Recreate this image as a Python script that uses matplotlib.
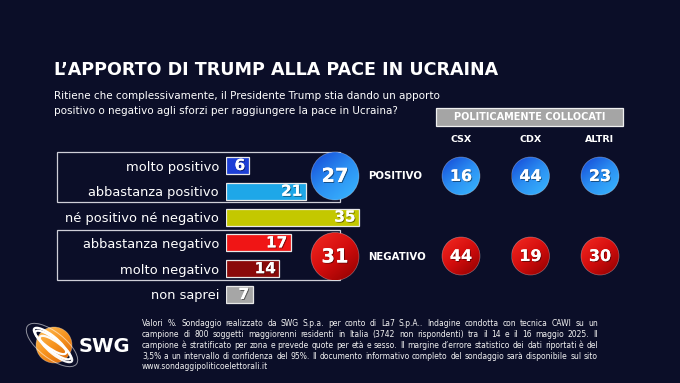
import numpy as np
import matplotlib
matplotlib.use('Agg')
from matplotlib import pyplot as plt
from matplotlib import patheffects as pe
from matplotlib.patches import Circle, Rectangle, Ellipse
from matplotlib.colors import LinearSegmentedColormap

categories = ['molto positivo', 'abbastanza positivo', 'né positivo né negativo',
              'abbastanza negativo', 'molto negativo', 'non saprei']
values = [6, 21, 35, 17, 14, 7]
bar_colors = ['#1d3fd6', '#1ea7e8', '#c4c800', '#f01515', '#8a0a0a', '#a6a6a6']

total_labels = ['POSITIVO', 'NEGATIVO']
totals = [27, 31]

groups = ['CSX', 'CDX', 'ALTRI']
positivo_by_group = [16, 44, 23]
negativo_by_group = [44, 19, 30]

title = 'L’APPORTO DI TRUMP ALLA PACE IN UCRAINA'
question = ['Ritiene che complessivamente, il Presidente Trump stia dando un apporto',
            'positivo o negativo agli sforzi per raggiungere la pace in Ucraina?']
note = ['Valori %. Sondaggio realizzato da SWG S.p.a. per conto di La7 S.p.A.. Indagine condotta con tecnica CAWI su un',
        'campione di 800 soggetti maggiorenni residenti in Italia (3742 non rispondenti) tra il 14 e il 16 maggio 2025. Il',
        'campione è stratificato per zona e prevede quote per età e sesso. Il margine d’errore statistico dei dati riportati è del',
        '3,5% a un intervallo di confidenza del 95%. Il documento informativo completo del sondaggio sarà disponibile sul sito',
        'www.sondaggipoliticoelettorali.it']

BG = '#0b0e28'
W, H = 680, 383
shadow = [pe.withSimplePatchShadow(offset=(0.7, -0.7), shadow_rgbFace='black', alpha=0.45),
          pe.Normal()]

fig = plt.figure(figsize=(W / 100, H / 100), dpi=100)
fig.patch.set_facecolor(BG)

# full-figure canvas in pixel units (y down)
cv = fig.add_axes([0, 0, 1, 1])
cv.set_xlim(0, W)
cv.set_ylim(H, 0)
cv.axis('off')
renderer = fig.canvas.get_renderer()


def fit_width(txt, width, rounds=3):
    for _ in range(rounds):
        w = txt.get_window_extent(renderer).width
        txt.set_fontsize(txt.get_fontsize() * width / w)
    return txt.get_fontsize()


blue_cm = LinearSegmentedColormap.from_list('b', ['#1446d6', '#2b8ff2', '#3ab8ff'])
red_cm = LinearSegmentedColormap.from_list('r', ['#f42a22', '#d30d0d', '#8e0000'])
orange_cm = LinearSegmentedColormap.from_list('o', ['#ffc15a', '#f7931e', '#d8640a'])


def ball(cx, cy, r, cmap, text=None, size=11):
    yy, xx = np.mgrid[0:1:64j, 0:1:64j]
    grad = (xx * 0.45 + yy * 0.55)
    im = cv.imshow(grad, cmap=cmap, extent=(cx - r, cx + r, cy + r, cy - r),
                   origin='upper', zorder=3, interpolation='bilinear')
    clip = Circle((cx, cy), r, transform=cv.transData)
    im.set_clip_path(clip)
    cv.add_patch(Circle((cx, cy), r, fill=False, ec='#ffffff', lw=0.5, alpha=0.35, zorder=4))
    if text is not None:
        cv.text(cx, cy + 0.5, text, ha='center', va='center', color='white',
                fontsize=size, fontweight='bold', zorder=5, path_effects=shadow)


# title and question
t = cv.text(54, 70, title, color='white', fontweight='bold', fontsize=13, va='center')
fit_width(t, 444)
q1 = cv.text(54, 96, question[0], color='white', fontsize=8, va='center')
fs = fit_width(q1, 386)
cv.text(54, 111, question[1], color='white', fontsize=fs, va='center')

# group boxes around positive / negative rows
for y0, y1 in [(152, 201.5), (230, 280)]:
    cv.add_patch(Rectangle((57, y0), 283, y1 - y0, fill=False, ec='#cfcfd8', lw=0.9, zorder=2))

# bar chart
row0, step = 165.5, 25.8
top = row0 - step / 2
bottom = row0 + step * 5.5
x0, px_per = 226, 3.8
ax = fig.add_axes([x0 / W, 1 - bottom / H, 40 * px_per / W, (bottom - top) / H])
ax.patch.set_visible(False)
ax.barh(range(len(values)), values, height=0.66, color=bar_colors,
        edgecolor='#e8e8e8', linewidth=0.9)
ax.set_xlim(0, 40)
ax.set_ylim(len(values) - 0.5, -0.5)
ax.set_yticks(range(len(categories)), categories)
ax.set_xticks([])
ax.tick_params(axis='y', length=0, pad=5, labelsize=9.4, labelcolor='white')
for s in ax.spines.values():
    s.set_visible(False)
for i, v in enumerate(values):
    ax.annotate(str(v), (v, i), xytext=(-2.5, 0), textcoords='offset points',
                ha='right', va='center', color='white', fontsize=11, fontweight='bold',
                path_effects=shadow)

# totals
for k, (lab, tot) in enumerate(zip(total_labels, totals)):
    cy = 176 + k * 80.5
    ball(335, cy, 24, blue_cm if k == 0 else red_cm, str(tot), 14)
    cv.text(368, cy, lab, color='white', fontsize=7.3, fontweight='bold', va='center')

# politically placed
cv.add_patch(Rectangle((436, 107.5), 187, 18.5, fc='#a5a5a5', ec='#f0f0f0', lw=0.9, zorder=2))
cv.text(529.5, 117, 'POLITICAMENTE COLLOCATI', color='white', fontsize=7,
        fontweight='bold', ha='center', va='center', zorder=3)
for j, g in enumerate(groups):
    cx = 461 + j * 69.5
    cv.text(cx, 139, g, color='white', fontsize=6.8, fontweight='bold', ha='center', va='center')
    ball(cx, 176, 19, blue_cm, str(positivo_by_group[j]), 11.5)
    ball(cx, 256, 19, red_cm, str(negativo_by_group[j]), 11.5)

# logo: orange globe with white orbit bands
ball(54, 345, 18, orange_cm)
for dx, dy, w_, h_, lw, a in [(-3, -4, 40, 12, 1.6, 1.0), (0, 0, 44, 12, 1.6, 1.0),
                              (3, 4, 40, 12, 1.6, 0.95), (-1, 0, 62, 26, 0.7, 0.55)]:
    cv.add_patch(Ellipse((53 + dx, 345 + dy), w_, h_, angle=38, fill=False, ec='white',
                         lw=lw, alpha=a, zorder=6))
cv.text(79, 347, 'SWG', color='white', fontsize=14, fontweight='bold', va='center')

# footnote, justified (word widths measured one by one)
nx0, nx1 = 142, 598


def word_widths(words, size):
    out = []
    for w_ in words:
        tt = cv.text(0, 0, w_, fontsize=size)
        out.append(tt.get_window_extent(renderer).width)
        tt.remove()
    return out


def natural(words, size):
    space = 0.318 * size * 100 / 72
    return sum(word_widths(words, size)) + space * (len(words) - 1)


nfs = 10.0
for _ in range(3):
    longest = max(natural(line.split(' '), nfs) for line in note[:-1])
    nfs = nfs * (nx1 - nx0) / longest

for k, line in enumerate(note):
    y = 324 + k * 10.7
    words = line.split(' ')
    if k == len(note) - 1:
        cv.text(nx0, y, line, color='#f2f2f2', fontsize=nfs, va='center')
        continue
    widths = word_widths(words, nfs)
    gap = (nx1 - nx0 - sum(widths)) / (len(words) - 1)
    x = nx0
    for w_, wd in zip(words, widths):
        cv.text(x, y, w_, color='#f2f2f2', fontsize=nfs, va='center')
        x += wd + gap

cv.set_xlim(0, W)
cv.set_ylim(H, 0)
cv.set_aspect('auto')
fig.savefig('out.png', dpi=100, facecolor=BG)
